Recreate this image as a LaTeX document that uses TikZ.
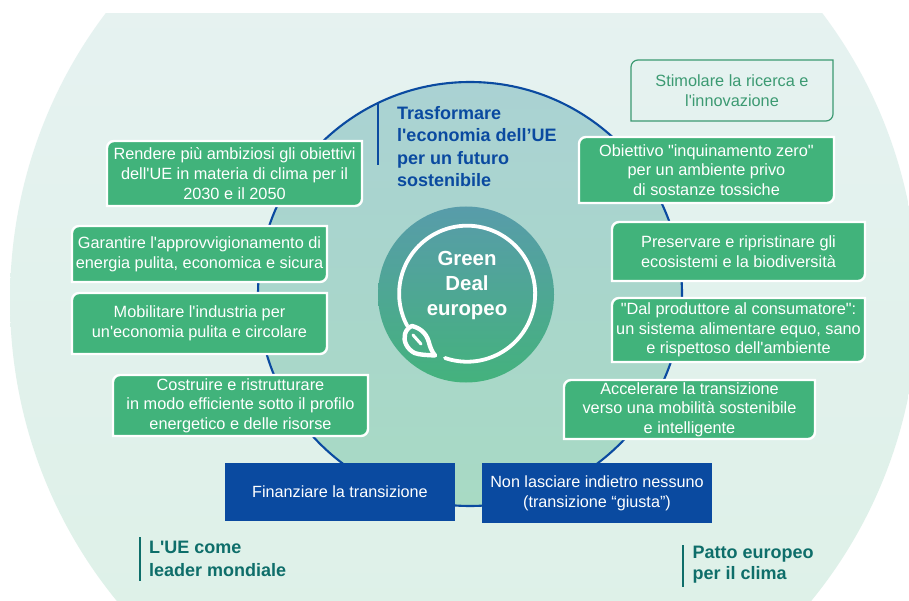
\documentclass[tikz,border=0pt]{standalone}
\usepackage{fontspec}
\setmainfont{Liberation Sans}[Ligatures=TeXOff]
\usetikzlibrary{calc}
\definecolor{boxgreen}{HTML}{41B37B}
\definecolor{euroblue}{HTML}{0A4AA0}
\definecolor{tealtext}{HTML}{0E6E6A}
\definecolor{outlinegreen}{HTML}{3C9A72}
\definecolor{bigtop}{RGB}{232,243,243}
\definecolor{bigbot}{RGB}{220,240,230}
\definecolor{midtop}{RGB}{170,210,211}
\definecolor{midbot}{RGB}{168,218,196}
\definecolor{coretop}{RGB}{88,156,170}
\definecolor{corebot}{RGB}{68,178,125}
\tikzset{
  boxtext/.style={inner sep=0pt,align=center,text=white,font=\fontsize{16.3}{19.7}\selectfont},
  bluetext/.style={inner sep=0pt,align=center,text=white,font=\fontsize{16.2}{20}\selectfont},
  heading/.style={inner sep=0pt,align=left,anchor=west,font=\bfseries\fontsize{18}{22.3}\selectfont},
  greenshape/.style={fill=boxgreen,draw=white,line width=2.4pt},
  outlineshape/.style={draw=outlinegreen,line width=1.2pt},
  bluebox/.style={fill=euroblue},
  bar/.style={line width=2pt}
}
% name, x1, y1, x2, y2, style, text style extras, text
\newcommand{\leafbox}[8]{%
  \path[#6] (#2,#5) [rounded corners=7pt] -- (#2,#3) [sharp corners] -- (#4,#3) [rounded corners=7pt] -- (#4,#5) [sharp corners] -- cycle;
  \node[#7] (#1) at ($(#2,#3)!.5!(#4,#5)$) {#8};
}
\begin{document}
\begin{tikzpicture}[x=1pt,y=-1pt]
\useasboundingbox (0,0) rectangle (909,601);
\fill[white] (0,0) rectangle (909,601);
\begin{scope}
  \clip (0,14) rectangle (909,601);
  \shade[top color=bigtop,bottom color=bigbot] (464,300) ellipse [x radius=454pt,y radius=467pt];
\end{scope}
\shade[top color=midtop,bottom color=midbot] (470,294) circle [radius=212pt];
\draw[euroblue,line width=2.1pt] (470,294) circle [radius=212pt];
\shade[top color=coretop,bottom color=corebot] (466,294.5) circle [radius=88pt];
% white ring with leaf
\draw[white,line width=3.8pt,line cap=round] (445,358) arc [start angle=-109,end angle=208,radius=68pt];
\draw[white,line width=4.4pt,line join=round,line cap=round]
  (412,326) .. controls (420,328) and (426,333) .. (428.5,341)
  .. controls (430,347) and (432,352) .. (435,355.5)
  .. controls (427,355) and (420,355) .. (414.5,353)
  .. controls (407,349) and (403,341) .. (405,334)
  .. controls (406,330) and (409,327) .. (412,326) -- cycle;
\draw[white,line width=3pt,line cap=round] (413,335) -- (421,344);
\node[inner sep=0pt,align=center,text=white,font=\bfseries\fontsize{20.4}{25}\selectfont] (gd) at (467,285) {Green\\Deal\\europeo};
% heading of the wheel
\draw[euroblue,bar] (378,103) -- (378,165);
\node[heading,text=euroblue] (tr) at (397,146.5) {Trasformare\\l'economia dell’UE\\per un futuro\\sostenibile};
% left boxes
\leafbox{ra}{107}{141}{362}{206}{greenshape}{boxtext}{Rendere più ambiziosi gli obiettivi\\dell'UE in materia di clima per il\\2030 e il 2050}
\leafbox{ga}{72}{226}{327}{282}{greenshape}{boxtext}{Garantire l'approvvigionamento di\\energia pulita, economica e sicura}
\leafbox{mo}{72}{293}{327}{354}{greenshape}{boxtext}{Mobilitare l'industria per\\un'economia pulita e circolare}
\leafbox{co}{113}{375}{368}{436}{greenshape}{boxtext}{Costruire e ristrutturare\\in modo efficiente sotto il profilo\\energetico e delle risorse}
% right boxes
\leafbox{st}{631}{60}{833}{121}{outlineshape}{boxtext,text=outlinegreen}{Stimolare la ricerca e\\l'innovazione}
\leafbox{ob}{579}{137}{834}{203}{greenshape}{boxtext}{Obiettivo "inquinamento zero"\\per un ambiente privo\\di sostanze tossiche}
\leafbox{pr}{612}{222}{865}{281}{greenshape}{boxtext}{Preservare e ripristinare gli\\ecosistemi e la biodiversità}
\leafbox{da}{612}{298}{865}{362}{greenshape}{boxtext}{"Dal produttore al consumatore":\\un sistema alimentare equo, sano\\e rispettoso dell'ambiente}
\leafbox{ac}{564}{380}{815}{439}{greenshape}{boxtext}{Accelerare la transizione\\verso una mobilità sostenibile\\e intelligente}
% blue boxes
\path[bluebox] (225,463) rectangle (455,521);
\node[bluetext] (fi) at (340,492) {Finanziare la transizione};
\path[bluebox] (482,463) rectangle (712,523);
\node[bluetext] (no) at (597,493) {Non lasciare indietro nessuno\\(transizione “giusta”)};
% bottom labels
\draw[tealtext,bar] (140,537) -- (140,581);
\node[heading,text=tealtext] (ue) at (149,559) {L'UE come\\leader mondiale};
\draw[tealtext,bar] (683,545) -- (683,587);
\node[heading,text=tealtext,font=\bfseries\fontsize{18}{21.5}\selectfont] (pa) at (692.5,564.5) {Patto europeo\\per il clima};
\end{tikzpicture}
\end{document}
